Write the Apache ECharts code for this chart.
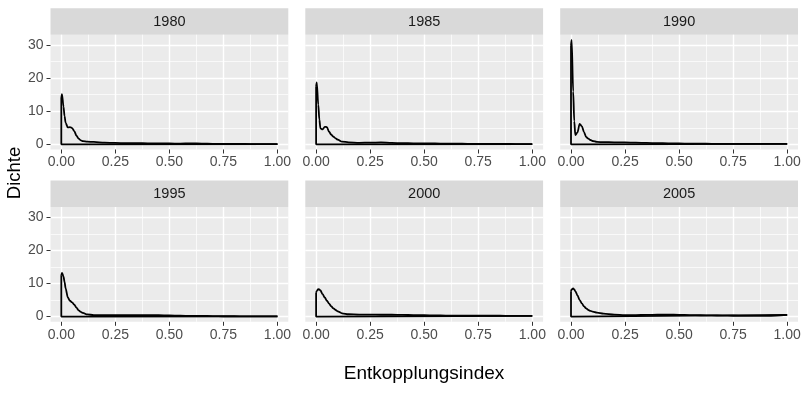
<!DOCTYPE html>
<html>
<head>
<meta charset="utf-8">
<script src="https://cdn.jsdelivr.net/npm/echarts@6/dist/echarts.min.js"></script>
<style>
  html, body { margin: 0; padding: 0; background: #ffffff; }
  #chart { width: 806px; height: 395px; }
</style>
</head>
<body>
<div id="chart"></div>
<script>
// ---- data ----
const years = ['1980', '1985', '1990', '1995', '2000', '2005'];
const xTicks = [0, 0.25, 0.5, 0.75, 1.0];
const xMinorTicks = [0.125, 0.375, 0.625, 0.875];
const yTicks = [0, 10, 20, 30];
const yMinorTicks = [5, 15, 25];
const densX = [0, 0.003, 0.01, 0.015, 0.02, 0.03, 0.04, 0.05, 0.06, 0.07, 0.08, 0.09, 0.1, 0.12, 0.15,
               0.2, 0.25, 0.3, 0.35, 0.4, 0.45, 0.5, 0.55, 0.6, 0.65, 0.7, 0.75, 0.8, 0.85, 0.9, 0.95, 1.0];
const dens1980 = [14.0, 15.2, 11.5, 8.5, 6.5, 5.1, 5.2, 4.9, 4.0, 2.6, 1.7, 1.2, 0.95, 0.8, 0.7,
                  0.5, 0.4, 0.35, 0.35, 0.3, 0.3, 0.25, 0.2, 0.3, 0.2, 0.15, 0.1, 0.1, 0.08, 0.06, 0.05, 0.05];
const dens1985 = [17.5, 18.7, 12, 7.5, 4.8, 4.5, 5.3, 5.2, 3.8, 2.9, 2.3, 1.8, 1.4, 0.8, 0.6,
                  0.45, 0.5, 0.55, 0.4, 0.35, 0.3, 0.3, 0.25, 0.2, 0.2, 0.15, 0.1, 0.1, 0.1, 0.08, 0.05, 0.05];
const dens1990 = [30, 31.6, 16, 7, 2.8, 3.6, 6.2, 5.5, 3.7, 2.2, 1.7, 1.3, 1.0, 0.7, 0.65,
                  0.6, 0.55, 0.5, 0.4, 0.35, 0.3, 0.25, 0.2, 0.2, 0.15, 0.15, 0.1, 0.1, 0.1, 0.1, 0.1, 0.1];
const dens1995 = [12.5, 13.2, 12.2, 10.5, 8.5, 5.8, 4.8, 4.3, 3.6, 2.7, 1.9, 1.4, 1.1, 0.65, 0.45,
                  0.4, 0.45, 0.45, 0.4, 0.4, 0.4, 0.35, 0.25, 0.2, 0.2, 0.15, 0.1, 0.1, 0.08, 0.06, 0.05, 0.05];
const dens2000 = [7.2, 7.8, 8.3, 8.2, 7.9, 6.8, 5.8, 4.8, 3.9, 3.1, 2.5, 2.0, 1.6, 1.0, 0.7,
                  0.6, 0.6, 0.55, 0.55, 0.5, 0.45, 0.4, 0.35, 0.3, 0.3, 0.3, 0.3, 0.25, 0.25, 0.2, 0.2, 0.2];
const dens2005 = [7.7, 8.2, 8.5, 8.2, 7.7, 6.4, 5.0, 4.0, 3.1, 2.5, 2.0, 1.7, 1.5, 1.2, 0.9,
                  0.6, 0.45, 0.45, 0.5, 0.55, 0.6, 0.5, 0.45, 0.4, 0.35, 0.3, 0.25, 0.2, 0.2, 0.2, 0.3, 0.5];
const densities = [dens1980, dens1985, dens1990, dens1995, dens2000, dens2005];
const xRange = [-0.05, 1.05];
const yRange = [-1.58, 33.18];

// ---- layout ----
const FONT = '"Liberation Sans", Arial, Helvetica, sans-serif';
const colLeft = [50.5, 305.3, 560.2];
const panelW = 237.8;
const rowTop = [34.7, 207];
const panelH = 114.8;
const stripH = 26.5;

const grids = [], xAxes = [], yAxes = [], series = [], graphics = [];

years.forEach((yr, i) => {
  const col = i % 3, row = Math.floor(i / 3);
  grids.push({
    left: colLeft[col], top: rowTop[row], width: panelW, height: panelH,
    show: true, backgroundColor: '#EBEBEB', borderWidth: 0, containLabel: false,
    outerBoundsMode: 'none'
  });
  xAxes.push({
    gridIndex: i, type: 'value', min: xRange[0], max: xRange[1],
    axisLine: { show: false, onZero: false },
    axisTick: { show: true, customValues: xTicks, length: 4, lineStyle: { color: '#333333', width: 1 } },
    axisLabel: { show: true, customValues: xTicks, margin: 6, color: '#4D4D4D', fontSize: 14, fontFamily: FONT,
                 formatter: v => v.toFixed(2), hideOverlap: false },
    splitLine: { show: true, lineStyle: { color: '#FFFFFF', width: 1.4 } }
  });
  xAxes.push({
    gridIndex: i, type: 'value', min: xRange[0], max: xRange[1], position: 'bottom',
    axisLine: { show: false, onZero: false },
    axisTick: { show: false, customValues: xMinorTicks },
    axisLabel: { show: false, customValues: xMinorTicks },
    splitLine: { show: true, lineStyle: { color: '#FFFFFF', width: 0.7 } }
  });
  const showY = col === 0;
  yAxes.push({
    gridIndex: i, type: 'value', min: yRange[0], max: yRange[1],
    axisLine: { show: false, onZero: false },
    axisTick: { show: showY, customValues: yTicks, length: 4, lineStyle: { color: '#333333', width: 1 } },
    axisLabel: { show: showY, customValues: yTicks, margin: 7, color: '#4D4D4D', fontSize: 14, fontFamily: FONT },
    splitLine: { show: true, lineStyle: { color: '#FFFFFF', width: 1.4 } }
  });
  yAxes.push({
    gridIndex: i, type: 'value', min: yRange[0], max: yRange[1], position: 'left',
    axisLine: { show: false, onZero: false },
    axisTick: { show: false, customValues: yMinorTicks },
    axisLabel: { show: false, customValues: yMinorTicks },
    splitLine: { show: true, lineStyle: { color: '#FFFFFF', width: 0.7 } }
  });

  const d = densities[i];
  const curve = densX.map((x, k) => [x, d[k]]);
  series.push({
    type: 'line', xAxisIndex: 2 * i, yAxisIndex: 2 * i, data: curve,
    showSymbol: false, symbol: 'none', smooth: 0.3, smoothMonotone: 'x',
    lineStyle: { color: '#000000', width: 1.8 }, silent: true, animation: false
  });
  const last = densX.length - 1;
  series.push({
    type: 'line', xAxisIndex: 2 * i, yAxisIndex: 2 * i,
    data: [[densX[last], d[last]], [densX[last], 0], [densX[0], 0], [densX[0], d[0]]],
    showSymbol: false, symbol: 'none', smooth: false,
    lineStyle: { color: '#000000', width: 1.8 }, silent: true, animation: false
  });

  graphics.push({
    type: 'rect', left: colLeft[col], top: rowTop[row] - stripH,
    shape: { width: panelW, height: stripH }, style: { fill: '#D9D9D9' }, silent: true
  });
  graphics.push({
    type: 'text', x: colLeft[col] + panelW / 2, y: rowTop[row] - stripH / 2 + 0.5,
    style: { text: yr, fill: '#1A1A1A', font: '14.5px ' + FONT, align: 'center', verticalAlign: 'middle' },
    silent: true
  });
});

graphics.push({
  type: 'text', x: 424, y: 374,
  style: { text: 'Entkopplungsindex', fill: '#000000', font: '19px ' + FONT, align: 'center', verticalAlign: 'middle' },
  silent: true
});
graphics.push({
  type: 'text', x: 15, y: 173, rotation: Math.PI / 2,
  style: { text: 'Dichte', fill: '#000000', font: '18.5px ' + FONT, align: 'center', verticalAlign: 'middle' },
  silent: true
});

const chart = echarts.init(document.getElementById('chart'), null, { renderer: 'canvas' });
chart.setOption({
  backgroundColor: '#FFFFFF',
  animation: false,
  grid: grids,
  xAxis: xAxes,
  yAxis: yAxes,
  series: series,
  graphic: { elements: graphics }
});
</script>
</body>
</html>
